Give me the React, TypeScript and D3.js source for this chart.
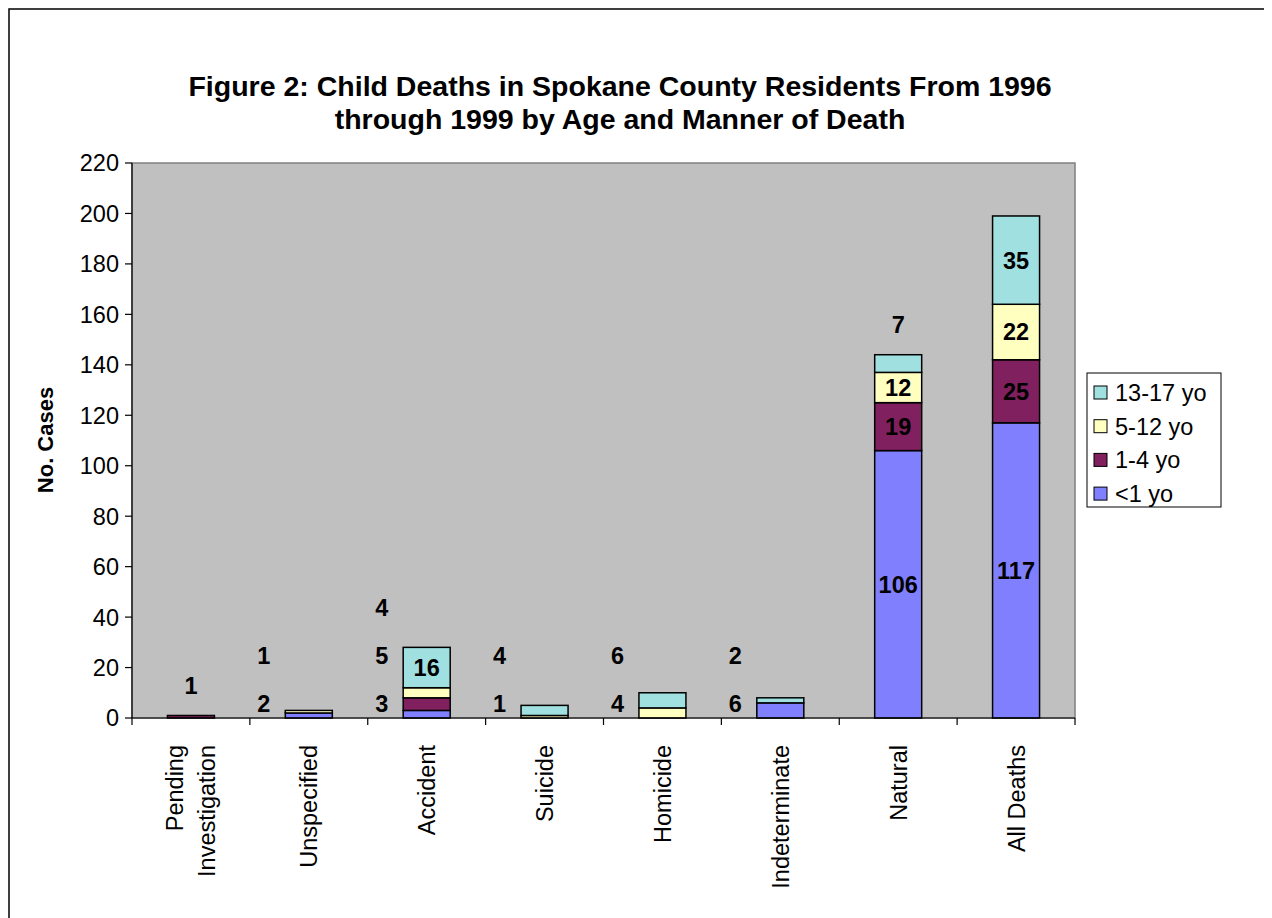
import React from "react";
import * as d3 from "d3";

const categories = ["Pending\nInvestigation", "Unspecified", "Accident", "Suicide", "Homicide", "Indeterminate", "Natural", "All Deaths"];
const seriesNames = ["<1 yo", "1-4 yo", "5-12 yo", "13-17 yo"];
const under1 = [0, 2, 3, 0, 0, 6, 106, 117];
const age1to4 = [1, 0, 5, 0, 0, 0, 19, 25];
const age5to12 = [0, 1, 4, 1, 4, 0, 12, 22];
const age13to17 = [0, 0, 16, 4, 6, 2, 7, 35];
const yTicks = [0, 20, 40, 60, 80, 100, 120, 140, 160, 180, 200, 220];
const colors = ["#8080FF", "#80205F", "#FFFFC0", "#A0E0E0"];
const FONT = "Arial, 'Liberation Sans', sans-serif";

export default function App() {
  const left = 132, right = 1075, top = 163, bottom = 718;
  const series = [under1, age1to4, age5to12, age13to17];
  const rows = categories.map((c, i) => ({ cat: c, v: series.map(s => s[i]) }));
  const stack = d3.stack<any>().keys([0, 1, 2, 3] as any).value((d: any, k: any) => d.v[k])(rows);
  const x = d3.scaleBand().domain(categories).range([left, right]).paddingInner(0).paddingOuter(0);
  const y = d3.scaleLinear().domain([0, 220]).range([bottom, top]);
  const bw = 47;

  const labels: any[] = [];
  categories.forEach((c, i) => {
    const cx = x(c)! + x.bandwidth() / 2;
    const segs = stack.map((s, k) => ({ k, y0: s[i][0], y1: s[i][1], v: series[k][i] })).filter(s => s.v > 0);
    const small = segs.filter(s => y(s.y0) - y(s.y1) < 25);
    const topSeg = segs[segs.length - 1];
    let idx = 0;
    segs.forEach(s => {
      const hpx = y(s.y0) - y(s.y1);
      if (hpx >= 25) {
        labels.push({ x: cx, y: (y(s.y0) + y(s.y1)) / 2, t: s.v });
      } else if (small.length === 1 && s === topSeg) {
        labels.push({ x: cx, y: y(s.y1) - 30, t: s.v });
      } else {
        labels.push({ x: cx - 45, y: bottom - 14 - idx * 48, t: s.v });
        idx++;
      }
    });
  });

  return (
    <svg width={1264} height={910} style={{ display: "block" }}>
      <g transform="translate(-8,-8)">
        <rect x={9} y={9} width={1300} height={1000} fill="#fff" stroke="#000" strokeWidth={1.5} />
        <text x={620} y={96} textAnchor="middle" fontFamily={FONT} fontWeight="bold" fontSize={28.5}>
          Figure 2: Child Deaths in Spokane County Residents From 1996
        </text>
        <text x={620} y={129} textAnchor="middle" fontFamily={FONT} fontWeight="bold" fontSize={28.5}>
          through 1999 by Age and Manner of Death
        </text>
        <rect x={left} y={top} width={right - left} height={bottom - top} fill="#C0C0C0" stroke="#808080" strokeWidth={1.5} />
        {stack.map((s, k) =>
          s.map((d, i) => {
            if (series[k][i] <= 0) return null;
            return (
              <rect key={k + "-" + i} x={x(categories[i])! + x.bandwidth() / 2 - bw / 2} y={y(d[1])}
                width={bw} height={y(d[0]) - y(d[1])} fill={colors[k]} stroke="#000" strokeWidth={1.5} />
            );
          })
        )}
        <line x1={left} x2={left} y1={top} y2={bottom} stroke="#000" strokeWidth={1.2} />
        <line x1={left} x2={right} y1={bottom} y2={bottom} stroke="#000" strokeWidth={1.2} />
        {yTicks.map(t => (
          <g key={t}>
            <line x1={left - 7} x2={left} y1={y(t)} y2={y(t)} stroke="#000" strokeWidth={1.2} />
            <text x={119} y={y(t)} dy="0.36em" textAnchor="end" fontFamily={FONT} fontSize={23.5}>{t}</text>
          </g>
        ))}
        {categories.map((c, i) => (
          <line key={"xt" + i} x1={x(c)!} x2={x(c)!} y1={bottom} y2={bottom + 7} stroke="#000" strokeWidth={1.2} />
        ))}
        <line x1={right} x2={right} y1={bottom} y2={bottom + 7} stroke="#000" strokeWidth={1.2} />
        {categories.map((c, i) => {
          const lines = c.split("\n");
          const cx = x(c)! + x.bandwidth() / 2;
          return lines.map((ln, j) => {
            const lx = cx + (j - (lines.length - 1) / 2) * 32;
            return (
              <text key={"cl" + i + j} transform={`translate(${lx},745) rotate(-90)`} textAnchor="end" dy="0.36em"
                fontFamily={FONT} fontSize={23.5}>{ln}</text>
            );
          });
        })}
        <text transform={`translate(45,440) rotate(-90)`} textAnchor="middle" dy="0.36em" fontFamily={FONT}
          fontWeight="bold" fontSize={22}>No. Cases</text>
        {labels.map((l, i) => (
          <text key={"lb" + i} x={l.x} y={l.y} dy="0.36em" textAnchor="middle" fontFamily={FONT}
            fontWeight="bold" fontSize={23.5}>{l.t}</text>
        ))}
        <rect x={1087} y={373} width={134} height={134} fill="#fff" stroke="#000" strokeWidth={1} />
        {[3, 2, 1, 0].map((k, j) => (
          <g key={"lg" + k}>
            <rect x={1094} y={386 + j * 33.7} width={13} height={13} fill={colors[k]} stroke="#000" strokeWidth={1} />
            <text x={1115} y={392.5 + j * 33.7} dy="0.36em" fontFamily={FONT} fontSize={23.5}>{seriesNames[k]}</text>
          </g>
        ))}
      </g>
    </svg>
  );
}
